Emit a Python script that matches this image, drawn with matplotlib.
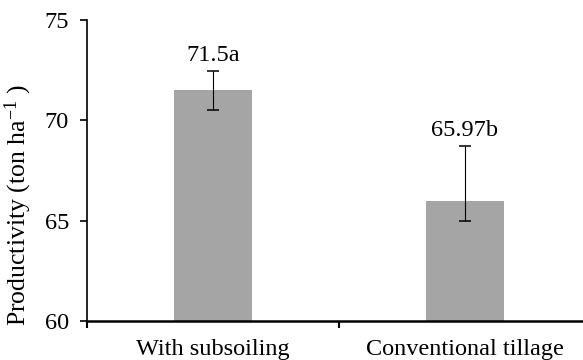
import numpy as np
import matplotlib
matplotlib.use('Agg')
import matplotlib.pyplot as plt

plt.rcParams['font.family'] = ['Liberation Serif', 'DejaVu Serif']
plt.rcParams['mathtext.fontset'] = 'custom'
plt.rcParams['mathtext.rm'] = 'Liberation Serif'
plt.rcParams['mathtext.it'] = 'Liberation Serif:italic'

# data
categories = ['With subsoiling', 'Conventional tillage']
values = [71.5, 65.97]
err_low = [1.0, 0.97]
err_high = [0.97, 2.76]
labels = ['71.5a', '65.97b']

fig = plt.figure(figsize=(5.83, 3.6), dpi=100)
# axes extend slightly past the right edge like the original
ax = fig.add_axes([87/583, 39/360, 504/583, 301/360])

x = np.arange(len(categories))
ax.bar(x, values, width=0.31, color='#a5a5a5', zorder=2)
ax.errorbar(x, values, yerr=[err_low, err_high], fmt='none', ecolor='black',
            elinewidth=0.8, capsize=4.3, capthick=1.1, zorder=3)

for xi, v, eh, lab in zip(x, values, err_high, labels):
    ax.text(xi, v + eh + 0.25, lab, ha='center', va='bottom', fontsize=17.5)

ax.set_xlim(-0.5, 1.5)
ax.set_ylim(60, 75)
ax.set_yticks([60, 65, 70, 75])
ax.set_xticks([-0.5, 0.5], minor=False)
ax.set_xticklabels(['', ''])
ax.set_xticks(x, minor=True)
ax.set_xticklabels(categories, minor=True, fontsize=17.5)
ax.tick_params(axis='x', which='minor', length=0, pad=13)
ax.tick_params(axis='x', which='major', length=5, width=1.5, direction='out')
ax.tick_params(axis='y', length=5, width=1.2, direction='out', labelsize=17.5, pad=8)

for s in ['top', 'right']:
    ax.spines[s].set_visible(False)
ax.spines['left'].set_linewidth(1.2)
ax.spines['bottom'].set_linewidth(1.8)

ax.set_ylabel(r'Productivity (ton ha$^{\mathregular{-1}}$ )', fontsize=18.5)
ax.yaxis.set_label_coords(-0.105, 0.385)

plt.savefig('out.png', dpi=100)
